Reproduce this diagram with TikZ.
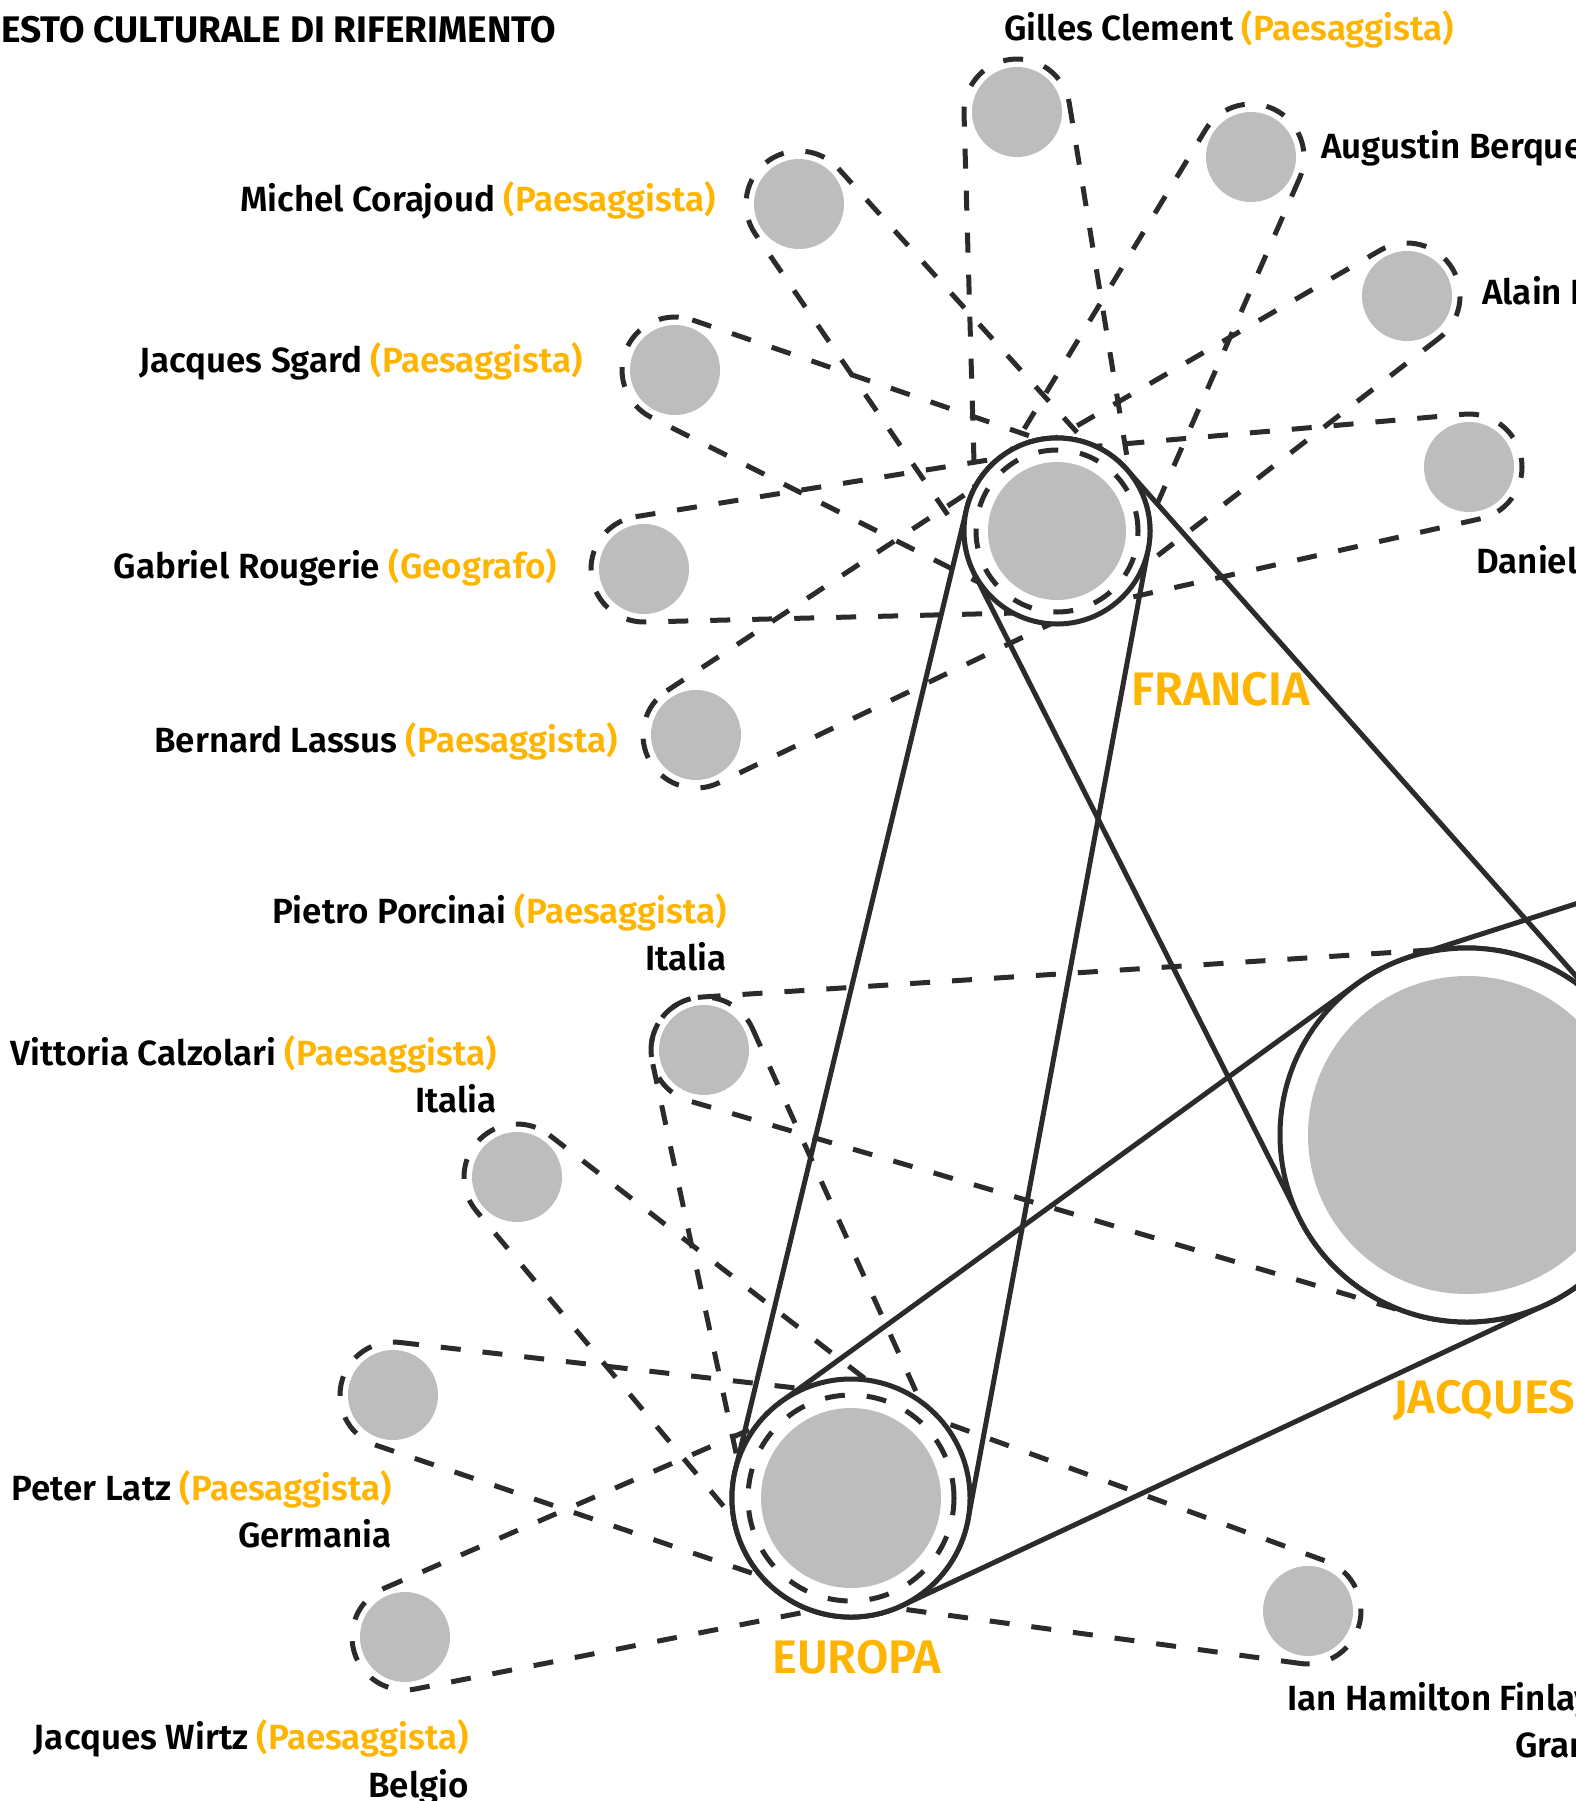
\documentclass[tikz,border=0pt]{standalone}
\usepackage{fontspec}
\IfFontExistsTF{Fira Sans SemiBold}{\setmainfont{Fira Sans}[BoldFont={Fira Sans SemiBold}]}{\setmainfont{Fira Sans}}
\newfontfamily\grassetto{Fira Sans}
\usetikzlibrary{calc}
\definecolor{arancio}{HTML}{FFB400}
\definecolor{grigio}{HTML}{BDBDBD}
\definecolor{tratto}{HTML}{2B2B2B}
\tikzstyle{persona} = [circle, fill=grigio, minimum size=90pt, inner sep=0pt, outer sep=0pt]
\tikzstyle{nodo} = [circle, draw=tratto, line width=5pt, fill=white, inner sep=0pt, outer sep=0pt]
\tikzstyle{legame} = [draw=tratto, line width=5pt, dash pattern=on 20pt off 22pt]
\tikzstyle{cinghia} = [draw=tratto, line width=5pt]
\tikzstyle{nome} = [inner sep=0pt, font=\fontsize{35}{42}\selectfont\bfseries]
\tikzstyle{stato} = [inner sep=0pt, font=\fontsize{47}{54}\selectfont\bfseries, text=arancio]
\tikzstyle{titolo} = [inner sep=0pt, font=\fontsize{37}{44}\selectfont\grassetto\bfseries]
\pgfdeclarelayer{background}
\pgfsetlayers{background,main}
% belt round two circles: [style]{from}{to}{r from}{r to}
\newcommand{\collega}[5][legame]{%
  \draw[#1] let \p1=(#2.center), \p2=(#3.center),
    \n1={atan2(\y2-\y1,\x2-\x1)}, \n2={veclen(\x2-\x1,\y2-\y1)},
    \n3={acos((#4-#5)/\n2)} in
    ($(\p1)+({\n1+\n3}:#4)$) -- ($(\p2)+({\n1+\n3}:#5)$)
    arc[start angle={\n1+\n3}, end angle={\n1-\n3}, radius=#5]
    -- ($(\p1)+({\n1-\n3}:#4)$)
    arc[start angle={\n1-\n3}, end angle={\n1+\n3-360}, radius=#4] -- cycle;}

\begin{document}
\begin{tikzpicture}[x=1pt,y=1pt]
        \useasboundingbox (0,0) rectangle (1576,-1801);
        % \draw[step=100,gray,very thin] (0,0) grid (1576,-1801);
        \node[titolo, anchor=base west] (titolo) at (1,-43) {ESTO CULTURALE DI RIFERIMENTO};

        \node[nodo, minimum size=186pt] (francia) at (1057,-531) {};
        \node[nodo, minimum size=238pt] (europa) at (851,-1498) {};
        \node[nodo, minimum size=374pt] (jacques) at (1467,-1135) {};
        \draw[legame] (francia.center) circle (81);
        \fill[grigio] (francia.center) circle (69);
        \draw[legame] (europa.center) circle (103);
        \fill[grigio] (europa.center) circle (90);
        \fill[grigio] (jacques.center) circle (159);
        \coordinate (fuori) at (1800,-832);

        \node[persona] (gilles) at (1017,-112) {};
        \node[persona] (augustin) at (1251,-157) {};
        \node[persona] (alain) at (1407,-296) {};
        \node[persona] (daniel) at (1469,-467) {};
        \node[persona] (michel) at (799,-204) {};
        \node[persona] (sgard) at (675,-370) {};
        \node[persona] (rougerie) at (644,-569) {};
        \node[persona] (lassus) at (696,-735) {};
        \node[persona] (porcinai) at (704,-1050) {};
        \node[persona] (calzolari) at (517,-1177) {};
        \node[persona] (latz) at (393,-1395) {};
        \node[persona] (wirtz) at (405,-1637) {};
        \node[persona] (finlay) at (1308,-1611) {};

        \begin{pgfonlayer}{background}
        \collega{gilles}{francia}{53}{81}
        \collega{augustin}{francia}{53}{81}
        \collega{alain}{francia}{53}{81}
        \collega{daniel}{francia}{53}{81}
        \collega{michel}{francia}{53}{81}
        \collega{sgard}{francia}{53}{81}
        \collega{rougerie}{francia}{53}{81}
        \collega{lassus}{francia}{53}{81}
        \collega{porcinai}{europa}{53}{103}
        \collega{porcinai}{jacques}{53}{187}
        \collega{calzolari}{europa}{53}{103}
        \collega{latz}{europa}{53}{103}
        \collega{wirtz}{europa}{53}{103}
        \collega{finlay}{europa}{53}{103}
        \collega[cinghia]{francia}{europa}{93}{119}
        \collega[cinghia]{francia}{jacques}{93}{187}
        \collega[cinghia]{europa}{jacques}{119}{187}
        \draw[cinghia] (jacques.108) -- (fuori);
        \end{pgfonlayer}

        \node[stato, anchor=base west] (franciaT) at (1131,-705) {FRANCIA};
        \node[stato, anchor=base west] (europaT) at (772,-1673) {EUROPA};
        \node[stato, anchor=base west] (jacquesT) at (1393,-1413) {JACQUES};

        \node[nome, anchor=base west] (gillesT) at (1004,-41) {Gilles Clement \textcolor{arancio}{(Paesaggista)}};
        \node[nome, anchor=base west] (augustinT) at (1321,-158) {Augustin Berque};
        \node[nome, anchor=base west] (alainT) at (1482,-304) {Alain Roger};
        \node[nome, anchor=base west] (danielT) at (1476,-573) {Daniel};
        \node[nome, anchor=base east] (michelT) at (716,-211) {Michel Corajoud \textcolor{arancio}{(Paesaggista)}};
        \node[nome, anchor=base east] (sgardT) at (583,-372) {Jacques Sgard \textcolor{arancio}{(Paesaggista)}};
        \node[nome, anchor=base east] (rougerieT) at (557,-578) {Gabriel Rougerie \textcolor{arancio}{(Geografo)}};
        \node[nome, anchor=base east] (lassusT) at (618,-752) {Bernard Lassus \textcolor{arancio}{(Paesaggista)}};
        \node[nome, anchor=base east] (porcinaiT) at (727,-923) {Pietro Porcinai \textcolor{arancio}{(Paesaggista)}};
        \node[nome, anchor=base east] (porcinaiP) at (727,-970) {Italia};
        \node[nome, anchor=base east] (calzolariT) at (497,-1065) {Vittoria Calzolari \textcolor{arancio}{(Paesaggista)}};
        \node[nome, anchor=base east] (calzolariP) at (497,-1112) {Italia};
        \node[nome, anchor=base east] (latzT) at (392,-1500) {Peter Latz \textcolor{arancio}{(Paesaggista)}};
        \node[nome, anchor=base east] (latzP) at (392,-1547) {Germania};
        \node[nome, anchor=base east] (wirtzT) at (469,-1749) {Jacques Wirtz \textcolor{arancio}{(Paesaggista)}};
        \node[nome, anchor=base east] (wirtzP) at (469,-1797) {Belgio};
        \node[nome, anchor=base west] (finlayT) at (1287,-1710) {Ian Hamilton Finlay};
        \node[nome, anchor=base west] (finlayP) at (1515,-1757) {Gran Bretagna};
\end{tikzpicture}
\end{document}
